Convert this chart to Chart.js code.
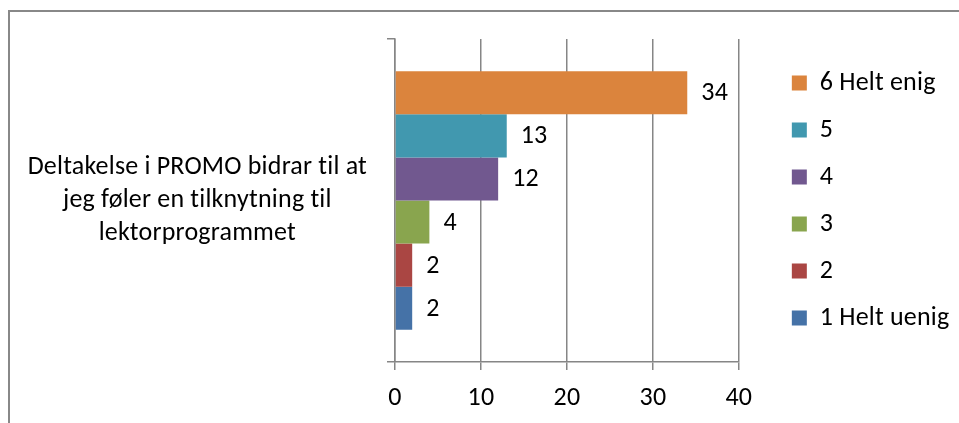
<!DOCTYPE html>
<html>
<head>
<meta charset="utf-8">
<script src="https://cdn.jsdelivr.net/npm/chart.js@4"></script>
<style>
  html, body { margin: 0; padding: 0; background: #fff; }
  #wrap { position: relative; width: 959px; height: 423px; overflow: hidden; }
  #frame { position: absolute; left: 8px; top: 10px; width: 1200px; height: 600px;
           border-left: 2px solid #888; border-top: 2px solid #888; }
  #box { position: absolute; left: 0; top: 0; width: 959px; height: 423px; }
</style>
</head>
<body>
<div id="wrap">
  <div id="frame"></div>
  <div id="box"><canvas id="chart"></canvas></div>
</div>
<script>
// Data
const categories = [['Deltakelse i PROMO bidrar til at', 'jeg føler en tilknytning til', 'lektorprogrammet']];
const seriesLabels = ['6 Helt enig', '5', '4', '3', '2', '1 Helt uenig'];
const seriesValues = [34, 13, 12, 4, 2, 2];
const seriesColors = ['#DB843D', '#4198AF', '#71588F', '#89A54E', '#AA4643', '#4572A7'];
const xMin = 0, xMax = 40, xStep = 10;

const FONT = "Carlito, Lato, 'Liberation Sans', sans-serif";
const FSIZE = 26;
const gridColor = '#868686';

// no "ti" ligatures, like the original; legend box runs to the canvas edge so nothing is clipped
function plainCtx(ctx) {
  ctx.textRendering = 'optimizeSpeed';
  ctx.letterSpacing = '0.2px';
}
const plainText = {
  id: 'plainText',
  beforeLayout(chart) { plainCtx(chart.ctx); },
  afterLayout(chart) {
    const lg = chart.legend;
    lg.right = chart.width;
    lg.width = lg.right - lg.left;
  },
  beforeDraw(chart) { plainCtx(chart.ctx); }
};

// value labels to the right of each bar
const valueLabels = {
  id: 'valueLabels',
  afterDatasetsDraw(chart) {
    const ctx = chart.ctx;
    ctx.save();
    ctx.font = FSIZE + 'px ' + FONT;
    ctx.fillStyle = '#000';
    ctx.textAlign = 'left';
    ctx.textBaseline = 'middle';
    chart.data.datasets.forEach((ds, i) => {
      chart.getDatasetMeta(i).data.forEach((el, j) => {
        ctx.fillText(String(ds.data[j]), el.x + 14, el.y + 1);
      });
    });
    ctx.restore();
  }
};

new Chart(document.getElementById('chart'), {
  type: 'bar',
  data: {
    labels: categories,
    datasets: seriesLabels.map((label, i) => ({
      label: label,
      data: [seriesValues[i]],
      backgroundColor: seriesColors[i],
      borderWidth: 0,
      categoryPercentage: 0.8,
      barPercentage: 1.0
    }))
  },
  options: {
    indexAxis: 'y',
    responsive: true,
    maintainAspectRatio: false,
    animation: false,
    layout: { padding: { left: 0, top: 39, right: 34, bottom: 0 } },
    plugins: {
      legend: {
        position: 'right',
        align: 'center',
        fullSize: false,
        labels: {
          boxWidth: 15,
          boxHeight: 15,
          padding: 21,
          color: '#000',
          font: { family: FONT, size: FSIZE }
        }
      },
      tooltip: { enabled: false }
    },
    scales: {
      x: {
        min: xMin,
        max: xMax,
        ticks: { stepSize: xStep, color: '#000', padding: 13, font: { family: FONT, size: FSIZE } },
        grid: { color: gridColor, lineWidth: 1.5, tickLength: 8, drawTicks: true },
        border: { display: true, color: gridColor, width: 1.5 },
        afterFit(s) { s.height = 61; }
      },
      y: {
        ticks: { color: '#000', padding: 20, crossAlign: 'center',
                 font: { family: FONT, size: FSIZE, lineHeight: 1.27 } },
        grid: { drawOnChartArea: false, drawTicks: true, tickLength: 8, color: gridColor, lineWidth: 1.5 },
        border: { display: true, color: gridColor, width: 1.5 },
        afterFit(s) { s.width = 395; s.paddingTop = 0; s.paddingBottom = 0; }
      },
      gap: {
        type: 'linear',
        position: 'right',
        display: true,
        ticks: { display: false },
        grid: { display: false, drawTicks: false },
        border: { display: false },
        afterFit(s) { s.width = 32; s.paddingTop = 0; s.paddingBottom = 0; }
      }
    }
  },
  plugins: [plainText, valueLabels]
});
</script>
</body>
</html>
